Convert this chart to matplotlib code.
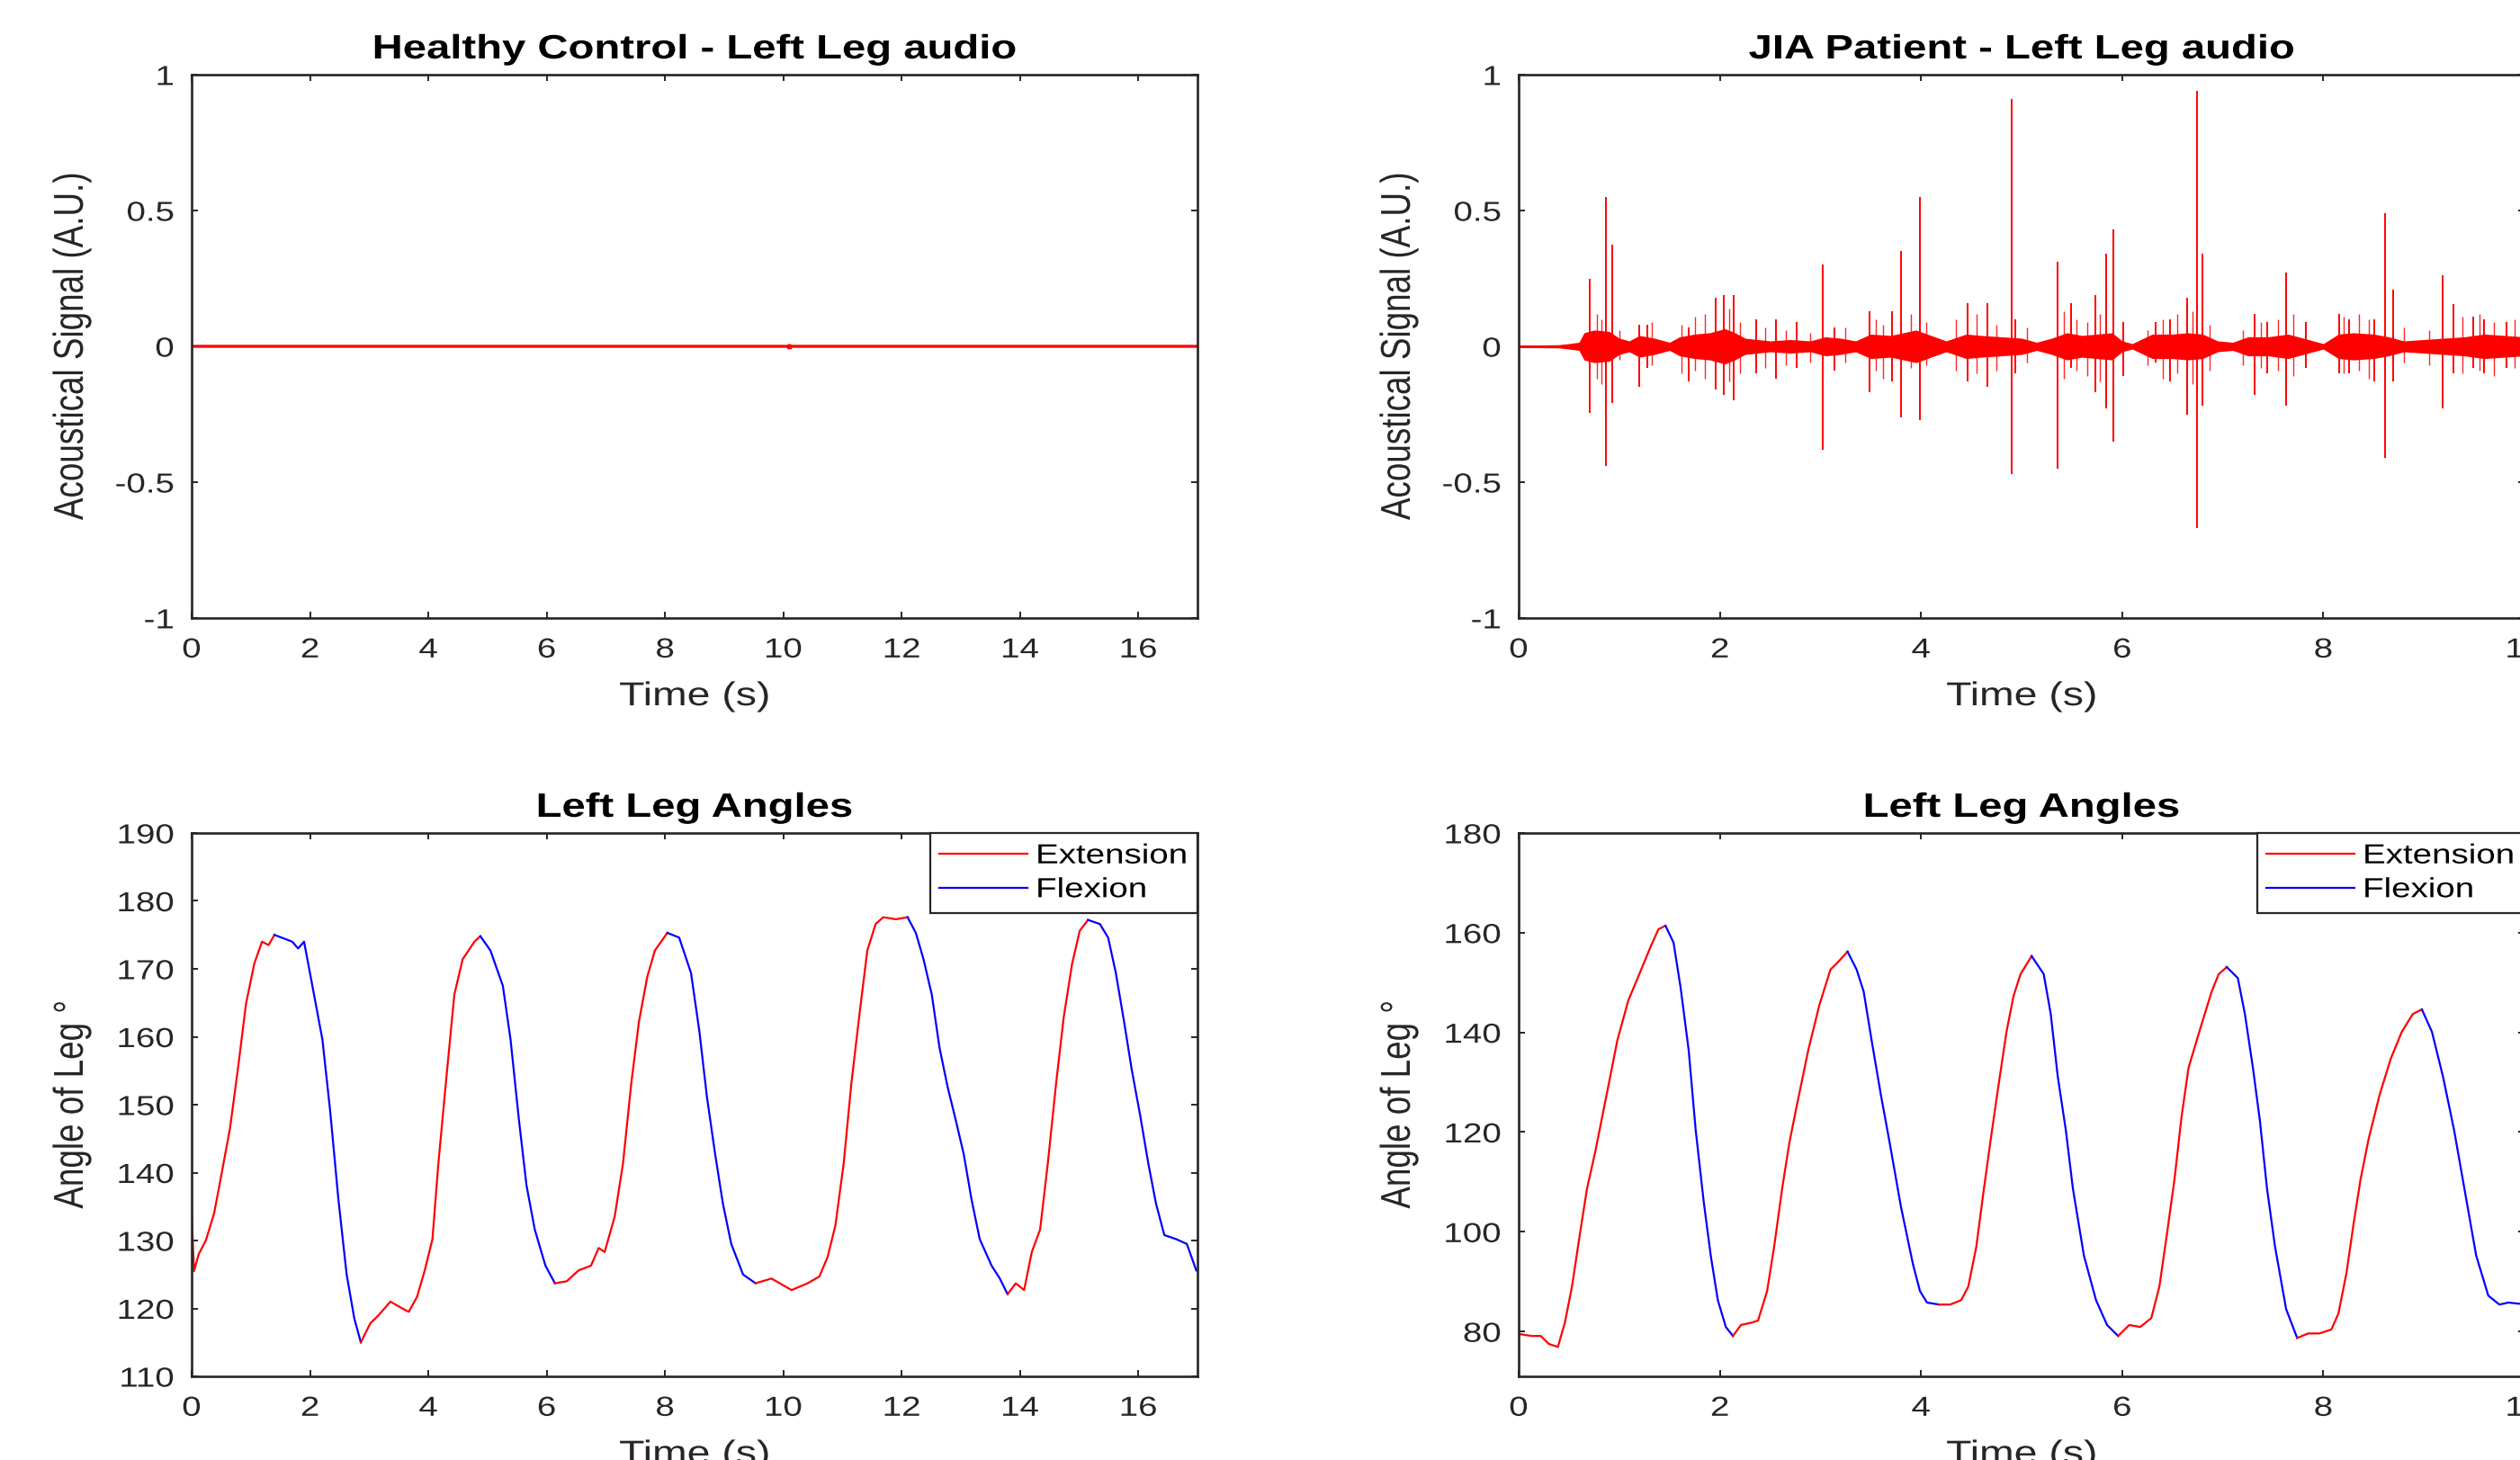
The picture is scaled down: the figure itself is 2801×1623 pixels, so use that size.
import numpy as np
import matplotlib
matplotlib.use("Agg")
import matplotlib.pyplot as plt
from matplotlib.ticker import FixedLocator, FuncFormatter
from matplotlib.patheffects import AbstractPathEffect
from matplotlib.transforms import Affine2D

plt.rcParams["font.family"] = ["Liberation Sans", "DejaVu Sans"]
plt.rcParams["axes.unicode_minus"] = False

# ---- data ----
# healthy control audio: essentially flat at zero
hc_audio_t = [0.0, 4.0, 8.0, 10.08, 10.1, 10.12, 13.0, 17.0]
hc_audio_v = [0.0, 0.0, 0.0, 0.0, 0.003, 0.0, 0.0, 0.0]

# JIA patient audio: dense burst envelope (+/- amp) and the clicks
jia_env_t = [0.0, 0.4, 0.5, 0.6, 0.65, 0.75, 0.9, 1.0, 1.1, 1.2, 1.35, 1.5, 1.6, 1.75,
             1.9, 2.05, 2.15, 2.25, 2.5, 2.7, 2.9, 3.05, 3.2, 3.35, 3.5, 3.7, 3.95, 4.1,
             4.25, 4.45, 4.6, 4.8, 5.0, 5.15, 5.3, 5.45, 5.6, 5.75, 5.9, 6.0, 6.1, 6.3,
             6.5, 6.65, 6.8, 6.95, 7.1, 7.25, 7.45, 7.65, 7.8, 8.0, 8.15, 8.3, 8.5, 8.65,
             8.8, 9.0, 9.2, 9.4, 9.6, 9.8, 10.0]
jia_env_amp = [0.004, 0.006, 0.01, 0.015, 0.05, 0.06, 0.055, 0.03, 0.02, 0.04, 0.03, 0.015,
               0.035, 0.045, 0.05, 0.065, 0.05, 0.03, 0.02, 0.025, 0.02, 0.035, 0.03, 0.02,
               0.045, 0.04, 0.06, 0.04, 0.02, 0.045, 0.04, 0.035, 0.03, 0.015, 0.03, 0.05,
               0.04, 0.045, 0.05, 0.02, 0.01, 0.045, 0.045, 0.05, 0.045, 0.02, 0.015, 0.035,
               0.035, 0.045, 0.03, 0.01, 0.045, 0.05, 0.045, 0.035, 0.02, 0.025, 0.03, 0.035,
               0.045, 0.04, 0.035]

spike_t = [0.71, 0.87, 0.93, 1.20, 1.28, 1.69, 1.96, 2.04, 2.14, 2.36, 2.56, 2.76, 3.02,
           3.14, 3.49, 3.71, 3.80, 3.99, 4.46, 4.66, 4.90, 4.94, 5.36, 5.49, 5.73, 5.84,
           5.91, 6.01, 6.33, 6.48, 6.65, 6.74, 6.80, 7.32, 7.44, 7.63, 7.83, 8.16, 8.26,
           8.51, 8.61, 8.69, 9.19, 9.29, 9.49, 9.60, 9.82]
spike_hi = [0.25, 0.55, 0.375, 0.08, 0.08, 0.07, 0.18, 0.19, 0.19, 0.10, 0.10, 0.09, 0.30,
            0.07, 0.13, 0.13, 0.35, 0.55, 0.16, 0.16, 0.91, 0.10, 0.31, 0.16, 0.19, 0.34,
            0.43, 0.09, 0.09, 0.10, 0.18, 0.94, 0.34, 0.12, 0.09, 0.27, 0.09, 0.12, 0.10,
            0.10, 0.49, 0.21, 0.26, 0.155, 0.11, 0.10, 0.09]
spike_lo = [-0.245, -0.44, -0.21, -0.15, -0.08, -0.13, -0.16, -0.18, -0.20, -0.10, -0.12,
            -0.08, -0.38, -0.09, -0.17, -0.13, -0.26, -0.27, -0.13, -0.15, -0.47, -0.10,
            -0.45, -0.08, -0.17, -0.23, -0.35, -0.11, -0.06, -0.13, -0.25, -0.67, -0.22,
            -0.18, -0.10, -0.22, -0.08, -0.10, -0.10, -0.13, -0.41, -0.13, -0.23, -0.10,
            -0.08, -0.10, -0.08]

# smaller crackles inside the bursts
minor_t = [0.78, 0.82, 1.00, 1.32, 1.62, 1.75, 1.85, 2.09, 2.20, 2.45, 2.66, 2.90, 3.25,
           3.55, 3.62, 3.90, 4.05, 4.35, 4.55, 4.75, 5.05, 5.42, 5.55, 5.65, 5.78, 6.25,
           6.40, 6.55, 6.70, 6.87, 7.20, 7.38, 7.55, 7.70, 8.20, 8.35, 8.45, 8.80, 9.05,
           9.38, 9.55, 9.70, 9.90]
minor_hi = [0.12, 0.10, 0.06, 0.09, 0.08, 0.11, 0.12, 0.14, 0.09, 0.07, 0.06, 0.05, 0.07,
            0.10, 0.08, 0.12, 0.09, 0.10, 0.12, 0.08, 0.07, 0.13, 0.10, 0.09, 0.12, 0.06,
            0.10, 0.12, 0.13, 0.08, 0.06, 0.09, 0.10, 0.12, 0.11, 0.12, 0.10, 0.07, 0.06,
            0.11, 0.12, 0.09, 0.10]
minor_lo = [-0.12, -0.14, -0.05, -0.07, -0.10, -0.09, -0.12, -0.13, -0.10, -0.08, -0.07,
            -0.06, -0.06, -0.09, -0.12, -0.08, -0.07, -0.09, -0.10, -0.09, -0.06, -0.12,
            -0.09, -0.11, -0.13, -0.07, -0.12, -0.10, -0.14, -0.09, -0.07, -0.08, -0.09,
            -0.11, -0.10, -0.09, -0.12, -0.06, -0.07, -0.10, -0.09, -0.11, -0.08]

# healthy control knee angle
hc_t = [0.0, 0.04, 0.12, 0.24, 0.38, 0.51, 0.65, 0.79, 0.92, 1.06, 1.19, 1.3, 1.4, 1.55,
        1.7, 1.8, 1.9, 2.0, 2.21, 2.34, 2.48, 2.62, 2.75, 2.86, 3.02, 3.16, 3.36, 3.56,
        3.67, 3.81, 3.94, 4.07, 4.17, 4.31, 4.44, 4.58, 4.78, 4.88, 5.05, 5.26, 5.39,
        5.53, 5.66, 5.80, 5.98, 6.14, 6.34, 6.54, 6.75, 6.88, 6.98, 7.15, 7.29, 7.43,
        7.56, 7.70, 7.83, 8.04, 8.24, 8.44, 8.58, 8.71, 8.85, 8.98, 9.12, 9.32, 9.53,
        9.80, 10.14, 10.41, 10.61, 10.75, 10.88, 11.02, 11.15, 11.29, 11.42, 11.56,
        11.69, 11.9, 12.1, 12.24, 12.37, 12.51, 12.64, 12.78, 12.91, 13.05, 13.18,
        13.32, 13.52, 13.66, 13.79, 13.93, 14.07, 14.20, 14.34, 14.47, 14.61, 14.74,
        14.88, 15.01, 15.15, 15.35, 15.49, 15.62, 15.76, 15.89, 16.03, 16.17, 16.30,
        16.44, 16.64, 16.82, 16.98]
hc_angle = [134, 125.5, 128, 130, 134, 140, 146.6, 155.8, 164.9, 170.8, 174, 173.5, 175,
            174.5, 174, 173, 174, 169.4, 159.6, 149.2, 136.1, 125, 118.5, 115, 117.8, 119,
            121, 120, 119.5, 121.7, 125.6, 130.2, 141.3, 154.4, 166.2, 171.4, 174, 174.8,
            172.7, 167.5, 159.6, 147.9, 138.1, 131.6, 126.3, 123.7, 124, 125.6, 126.3,
            128.9, 128.3, 133.5, 141.3, 153.1, 162.2, 168.8, 172.7, 175.3, 174.6, 169.4,
            160.9, 151.1, 142.6, 135.4, 129.5, 125, 123.7, 124.4, 122.7, 123.7, 124.7,
            127.6, 132.2, 141.3, 153.1, 163.5, 172.7, 176.6, 177.6, 177.3, 177.6, 175.3,
            171.4, 166.2, 158.4, 152.5, 147.9, 142.7, 136.1, 130.2, 126.3, 124.4, 122.1,
            123.7, 122.7, 128.3, 131.6, 141.3, 153.1, 162.9, 170.7, 175.6, 177.2, 176.6,
            174.6, 169.4, 162.2, 155.1, 148.5, 141.3, 135.4, 130.8, 130.2, 129.5, 125.6]
hc_flex = [(1.4, 2.86), (4.88, 6.14), (8.04, 9.53), (12.1, 13.79), (15.15, 16.98)]

# JIA patient knee angle
jia_t = [0.0, 0.13, 0.22, 0.30, 0.39, 0.46, 0.53, 0.61, 0.68, 0.76, 0.83, 0.91, 0.98,
         1.09, 1.20, 1.31, 1.39, 1.46, 1.54, 1.61, 1.69, 1.76, 1.84, 1.91, 1.98, 2.06,
         2.13, 2.21, 2.32, 2.38, 2.47, 2.54, 2.62, 2.69, 2.76, 2.88, 2.99, 3.10, 3.17,
         3.27, 3.36, 3.43, 3.51, 3.60, 3.69, 3.80, 3.92, 3.99, 4.06, 4.18, 4.29, 4.40,
         4.47, 4.55, 4.62, 4.70, 4.77, 4.85, 4.92, 4.99, 5.10, 5.22, 5.29, 5.36, 5.44,
         5.51, 5.62, 5.74, 5.85, 5.96, 6.07, 6.18, 6.29, 6.37, 6.44, 6.52, 6.59, 6.66,
         6.78, 6.89, 6.96, 7.04, 7.15, 7.22, 7.30, 7.37, 7.44, 7.52, 7.63, 7.74, 7.85,
         7.96, 8.08, 8.15, 8.23, 8.30, 8.37, 8.45, 8.56, 8.67, 8.78, 8.89, 8.98, 9.08,
         9.19, 9.30, 9.41, 9.52, 9.64, 9.75, 9.84, 9.93, 10.0]
jia_angle = [79.5, 79.1, 79.1, 77.5, 76.9, 81.8, 89, 99.7, 108.7, 115.9, 123, 131.1, 138.3,
             146.4, 151.7, 157.1, 160.7, 161.4, 158, 149, 136.5, 120.4, 106, 95.2, 86.3,
             80.9, 79.1, 81.3, 81.8, 82.2, 88.1, 97, 108.7, 117.7, 124.8, 136.5, 145.5,
             152.6, 154, 156.2, 152.6, 148.2, 138.3, 127.6, 117.7, 105.1, 93.5, 88.1, 85.8,
             85.4, 85.4, 86.3, 89, 97, 107.8, 119.5, 129.3, 140.1, 147.3, 151.7, 155.3,
             151.7, 143.7, 131.1, 120.4, 108.7, 95.2, 86.3, 81.3, 79.1, 81.3, 80.9, 82.7,
             89, 98.8, 110.5, 123, 132.9, 141, 148.2, 151.7, 153.1, 150.9, 143.7, 132.9,
             122.2, 108.7, 97, 84.5, 78.7, 79.6, 79.6, 80.4, 83.6, 91.7, 101.5, 110.5,
             118.6, 127.5, 134.7, 140.1, 143.7, 144.6, 140.1, 131.1, 120.4, 107.8, 95.2,
             87.2, 85.4, 85.8, 85.6, 85.5]
jia_flex = [(1.46, 2.13), (3.27, 4.18), (5.10, 5.96), (7.04, 7.74), (8.98, 10.0)]

EXT_COLOR = "#ff0000"
FLEX_COLOR = "#0000ff"
DARK = "#262626"
SX = 1.26  # the reference text is drawn horizontally widened


class HStretch(AbstractPathEffect):
    """Widen text horizontally on screen, keeping one side (or the centre) fixed."""

    def __init__(self, sx=SX, anchor="center", dx=0.0):
        super().__init__()
        self.sx = sx
        self.anchor = anchor
        self.dx = dx

    def draw_path(self, renderer, gc, tpath, affine, rgbFace=None):
        ext = tpath.get_extents(affine)
        if self.anchor == "right":
            cx = ext.x1
        elif self.anchor == "left":
            cx = ext.x0
        else:
            cx = 0.5 * (ext.x0 + ext.x1)
        aff = (affine + Affine2D().translate(-cx, 0).scale(self.sx, 1)
               .translate(cx + self.dx, 0))
        renderer.draw_path(gc, tpath, aff, rgbFace)


def style_axes(ax):
    for sp in ax.spines.values():
        sp.set_linewidth(1.9)
        sp.set_color(DARK)
    ax.tick_params(direction="in", length=5, width=1.4, top=True, right=True,
                   labelsize=22, colors=DARK, pad=15)
    ax.tick_params(axis="y", pad=14)


def plot_phases(ax, t, y, flex, tmax):
    t = np.asarray(t)
    y = np.asarray(y)
    bounds = [0.0]
    for a, b in flex:
        bounds += [a, b]
    bounds.append(tmax)
    for i in range(len(bounds) - 1):
        a, b = bounds[i], bounds[i + 1]
        if b <= a:
            continue
        m = (t >= a) & (t <= b)
        c = FLEX_COLOR if i % 2 == 1 else EXT_COLOR
        ax.plot(t[m], y[m], color=c, lw=1.6)


def audio_labels(ax, xmax, xticks):
    ax.set_xlim(0, xmax)
    ax.set_ylim(-1, 1)
    ax.xaxis.set_major_locator(FixedLocator(xticks))
    ax.yaxis.set_major_locator(FixedLocator([-1, -0.5, 0, 0.5, 1]))
    ax.yaxis.set_major_formatter(FuncFormatter(lambda v, p: "%g" % v))
    ax.set_ylabel("Acoustical Signal (A.U.)")
    ax.set_xlabel("Time (s)")


fig = plt.figure(figsize=(28.01, 16.23), dpi=100)
W, H = 2801.0, 1623.0
aw, ah = 1118 / W, 604 / H
ax1 = fig.add_axes([213 / W, 1 - 687 / H, aw, ah])
ax2 = fig.add_axes([1688 / W, 1 - 687 / H, aw, ah])
ax3 = fig.add_axes([213 / W, 1 - 1530 / H, aw, ah])
ax4 = fig.add_axes([1688 / W, 1 - 1530 / H, aw, ah])

# top left
ax1.plot(hc_audio_t, hc_audio_v, color=EXT_COLOR, lw=2.4)
ax1.plot([10.1], [0.0], "s", color=EXT_COLOR, ms=3)
audio_labels(ax1, 17, range(0, 17, 2))
ax1.set_title("Healthy Control - Left Leg audio")

# top right
ax2.fill_between(jia_env_t, [-a for a in jia_env_amp], jia_env_amp, color=EXT_COLOR, lw=0)
ax2.plot(jia_env_t, [0] * len(jia_env_t), color=EXT_COLOR, lw=2)
ax2.vlines(minor_t, minor_lo, minor_hi, color=EXT_COLOR, lw=1.0, alpha=0.85)
ax2.vlines(spike_t, spike_lo, spike_hi, color=EXT_COLOR, lw=1.4)
audio_labels(ax2, 10, range(0, 11, 2))
ax2.set_title("JIA Patient - Left Leg audio")

# bottom left
plot_phases(ax3, hc_t, hc_angle, hc_flex, 17)
ax3.set_xlim(0, 17)
ax3.set_ylim(110, 190)
ax3.xaxis.set_major_locator(FixedLocator(range(0, 17, 2)))
ax3.yaxis.set_major_locator(FixedLocator(range(110, 191, 10)))

# bottom right
plot_phases(ax4, jia_t, jia_angle, jia_flex, 10)
ax4.set_xlim(0, 10)
ax4.set_ylim(71, 180)
ax4.xaxis.set_major_locator(FixedLocator(range(0, 11, 2)))
ax4.yaxis.set_major_locator(FixedLocator(range(80, 181, 20)))

# legend text is widened leftwards by the width gained on "Extension"
leg_shift = -(SX - 1) * 134
for ax in (ax3, ax4):
    ax.plot([], [], color=EXT_COLOR, lw=1.6, label="Extension")
    ax.plot([], [], color=FLEX_COLOR, lw=1.6, label="Flexion")
    ax.set_title("Left Leg Angles")
    ax.set_ylabel("Angle of Leg \u00b0")
    ax.set_xlabel("Time (s)")
    h, l = ax.get_legend_handles_labels()
    leg = ax.legend(h[-2:], l[-2:], loc="upper right", fontsize=22, frameon=True,
                    fancybox=False, borderaxespad=0, handlelength=3.2,
                    labelspacing=0.25, borderpad=0.35, handletextpad=1.45)
    leg.get_frame().set_edgecolor(DARK)
    leg.get_frame().set_linewidth(1.6)
    leg.get_frame().set_alpha(1)
    for txt in leg.get_texts():
        txt.set_path_effects([HStretch(anchor="left", dx=leg_shift)])

for ax in (ax1, ax2, ax3, ax4):
    style_axes(ax)
    ax.set_title(ax.get_title(), fontsize=27, fontweight="bold", pad=13,
                 path_effects=[HStretch()])
    ax.yaxis.label.set_fontsize(26.5)
    ax.yaxis.label.set_color(DARK)
    ax.yaxis.label.set_path_effects([HStretch(anchor="right")])
    ax.xaxis.label.set_fontsize(26.5)
    ax.xaxis.label.set_color(DARK)
    ax.xaxis.label.set_path_effects([HStretch()])
    ax.yaxis.set_label_coords(-111 / 1118, 0.5)
    ax.xaxis.set_label_coords(0.5, -70 / 604)

fig.canvas.draw()
for ax in (ax1, ax2, ax3, ax4):
    for lab in ax.get_xticklabels():
        lab.set_path_effects([HStretch()])
    for lab in ax.get_yticklabels():
        lab.set_path_effects([HStretch(anchor="right")])

fig.savefig("out.png", dpi=100)
